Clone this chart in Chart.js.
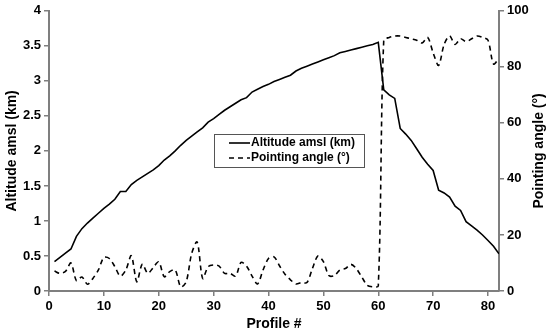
<!DOCTYPE html>
<html>
<head>
<meta charset="utf-8">
<script src="https://cdn.jsdelivr.net/npm/chart.js@4/dist/chart.umd.min.js"></script>
<style>
  html, body { margin: 0; padding: 0; background: #fff; }
  #wrap { width: 550px; height: 336px; }
</style>
</head>
<body>
<div id="wrap"><canvas id="chart" width="550" height="336"></canvas></div>
<script>
// Data
const profiles = [1, 2, 3, 4, 5, 6, 7, 8, 9, 10, 11, 12, 13, 14, 15, 16, 17, 18, 19, 20,
    21, 22, 23, 24, 25, 26, 27, 28, 29, 30, 31, 32, 33, 34, 35, 36, 37, 38, 39, 40,
    41, 42, 43, 44, 45, 46, 47, 48, 49, 50, 51, 52, 53, 54, 55, 56, 57, 58, 59, 60,
    61, 62, 63, 64, 65, 66, 67, 68, 69, 70, 71, 72, 73, 74, 75, 76, 77, 78, 79, 80,
    81, 82];

const altitude = [0.42, 0.48, 0.54, 0.60, 0.78, 0.89, 0.97, 1.04, 1.11, 1.18,
    1.24, 1.31, 1.42, 1.42, 1.52, 1.58, 1.63, 1.68, 1.73, 1.79,
    1.87, 1.93, 2.00, 2.08, 2.15, 2.21, 2.27, 2.33, 2.41, 2.46,
    2.52, 2.58, 2.63, 2.68, 2.73, 2.76, 2.84, 2.88, 2.92, 2.95,
    2.99, 3.02, 3.05, 3.08, 3.14, 3.18, 3.21, 3.24, 3.27, 3.30,
    3.33, 3.36, 3.40, 3.42, 3.44, 3.46, 3.48, 3.50, 3.52, 3.55,
    2.87, 2.80, 2.75, 2.32, 2.24, 2.15, 2.03, 1.91, 1.81, 1.72,
    1.44, 1.40, 1.34, 1.21, 1.15, 0.99, 0.93, 0.87, 0.80, 0.72,
    0.64, 0.53];

const pointingAngle = [7.1, 6.3, 7.0, 10.0, 3.7, 5.0, 2.4, 4.5, 7.5, 12.0,
    11.6, 8.7, 5.3, 7.5, 12.6, 3.3, 9.6, 6.3, 8.4, 10.4,
    5.1, 6.9, 7.5, 1.5, 3.3, 13.4, 17.5, 4.5, 8.7, 9.3,
    8.9, 6.3, 6.3, 5.3, 10.2, 8.9, 5.3, 2.5, 7.5, 11.6,
    12.2, 9.0, 6.0, 4.0, 2.5, 3.0, 3.0, 8.0, 12.5, 10.5,
    5.5, 5.5, 7.5, 8.0, 9.5, 8.0, 5.0, 2.0, 1.5, 1.8,
    89.5, 90.5, 91.0, 91.0, 90.5, 90.0, 89.5, 88.5, 90.5, 85.0,
    80.5, 88.0, 91.0, 88.0, 90.0, 89.0, 90.0, 91.0, 90.5, 89.5,
    81.0, 83.0];

const seriesNames = ['Altitude amsl (km)', 'Pointing angle (°)'];
const axisTitles = { x: 'Profile #', y: 'Altitude amsl (km)', y1: 'Pointing angle (°)' };

const axisColor = '#7f7f7f';
const fontFamily = '"Liberation Sans", Arial, sans-serif';
const tickFont = { family: fontFamily, size: 13, weight: 'bold' };

// plain number labels: 0, 0.5, 1, 1.5 ...
const plainLabel = value => String(Math.round(value * 10) / 10);

// Axis titles drawn by hand so the right one reads bottom-to-top
const titlesPlugin = {
    id: 'titles',
    afterDraw(chart) {
        const ctx = chart.ctx;
        const area = chart.chartArea;
        ctx.save();
        ctx.fillStyle = '#000';
        ctx.font = 'bold 14px ' + fontFamily;
        ctx.textAlign = 'center';
        ctx.textBaseline = 'middle';
        ctx.fillText(axisTitles.x, (area.left + area.right) / 2, 324);

        ctx.save();
        ctx.translate(12, (area.top + area.bottom) / 2);
        ctx.rotate(-Math.PI / 2);
        ctx.fillText(axisTitles.y, 0, 0);
        ctx.restore();

        ctx.save();
        ctx.translate(539, (area.top + area.bottom) / 2);
        ctx.rotate(-Math.PI / 2);
        ctx.fillText(axisTitles.y1, 0, 0);
        ctx.restore();
        ctx.restore();
    }
};

// Boxed legend sitting inside the plot
const legendBoxPlugin = {
    id: 'legendBox',
    afterDraw(chart) {
        const ctx = chart.ctx;
        const x0 = 214, y0 = 134, w = 150, h = 33;
        ctx.save();
        ctx.fillStyle = '#fff';
        ctx.fillRect(x0, y0, w, h);
        ctx.strokeStyle = '#555';
        ctx.lineWidth = 1;
        ctx.strokeRect(x0 + 0.5, y0 + 0.5, w, h);

        ctx.font = 'bold 12px ' + fontFamily;
        ctx.textBaseline = 'middle';
        ctx.textAlign = 'left';
        ctx.fillStyle = '#000';
        chart.data.datasets.forEach((ds, i) => {
            const y = y0 + 9 + i * 15;
            ctx.beginPath();
            ctx.strokeStyle = ds.borderColor;
            ctx.lineWidth = ds.borderWidth;
            ctx.setLineDash(ds.borderDash || []);
            ctx.moveTo(x0 + 15, y);
            ctx.lineTo(x0 + 36, y);
            ctx.stroke();
            ctx.setLineDash([]);
            ctx.fillText(ds.label, x0 + 37, y);
        });
        ctx.restore();
    }
};

const ctx = document.getElementById('chart').getContext('2d');
const chart = new Chart(ctx, {
    type: 'line',
    data: {
        datasets: [{
            label: seriesNames[0],
            data: profiles.map((p, i) => ({ x: p, y: altitude[i] })),
            borderColor: '#000',
            borderWidth: 1.6,
            pointRadius: 0,
            tension: 0,
            yAxisID: 'y'
        }, {
            label: seriesNames[1],
            data: profiles.map((p, i) => ({ x: p, y: pointingAngle[i] })),
            borderColor: '#000',
            borderWidth: 1.6,
            borderDash: [5, 4],
            pointRadius: 0,
            tension: 0.3,
            yAxisID: 'y1'
        }]
    },
    options: {
        responsive: false,
        animation: false,
        layout: { padding: { top: 10, left: 0, right: 0, bottom: 0 } },
        plugins: {
            legend: { display: false },
            tooltip: { enabled: false }
        },
        scales: {
            x: {
                type: 'linear',
                min: 0,
                max: 82,
                afterBuildTicks(scale) {
                    scale.ticks = [0, 10, 20, 30, 40, 50, 60, 70, 80].map(v => ({ value: v }));
                },
                afterFit(scale) { scale.height = 45; },
                grid: { drawOnChartArea: false, drawTicks: true, tickLength: 5, color: axisColor, lineWidth: 1.5 },
                border: { color: axisColor, width: 2 },
                ticks: { font: tickFont, color: '#000', padding: 3, maxRotation: 0, callback: plainLabel }
            },
            y: {
                position: 'left',
                min: 0,
                max: 4,
                afterFit(scale) { scale.width = 49; },
                grid: { drawOnChartArea: false, drawTicks: true, tickLength: 5, color: axisColor, lineWidth: 1.5 },
                border: { color: axisColor, width: 2 },
                ticks: { stepSize: 0.5, font: tickFont, color: '#000', padding: 3, callback: plainLabel }
            },
            y1: {
                position: 'right',
                min: 0,
                max: 100,
                afterFit(scale) { scale.width = 51; },
                grid: { drawOnChartArea: false, drawTicks: true, tickLength: 5, color: axisColor, lineWidth: 1.5 },
                border: { color: axisColor, width: 2 },
                ticks: { stepSize: 20, font: tickFont, color: '#000', padding: 3, callback: plainLabel }
            }
        }
    },
    plugins: [titlesPlugin, legendBoxPlugin]
});
</script>
</body>
</html>
